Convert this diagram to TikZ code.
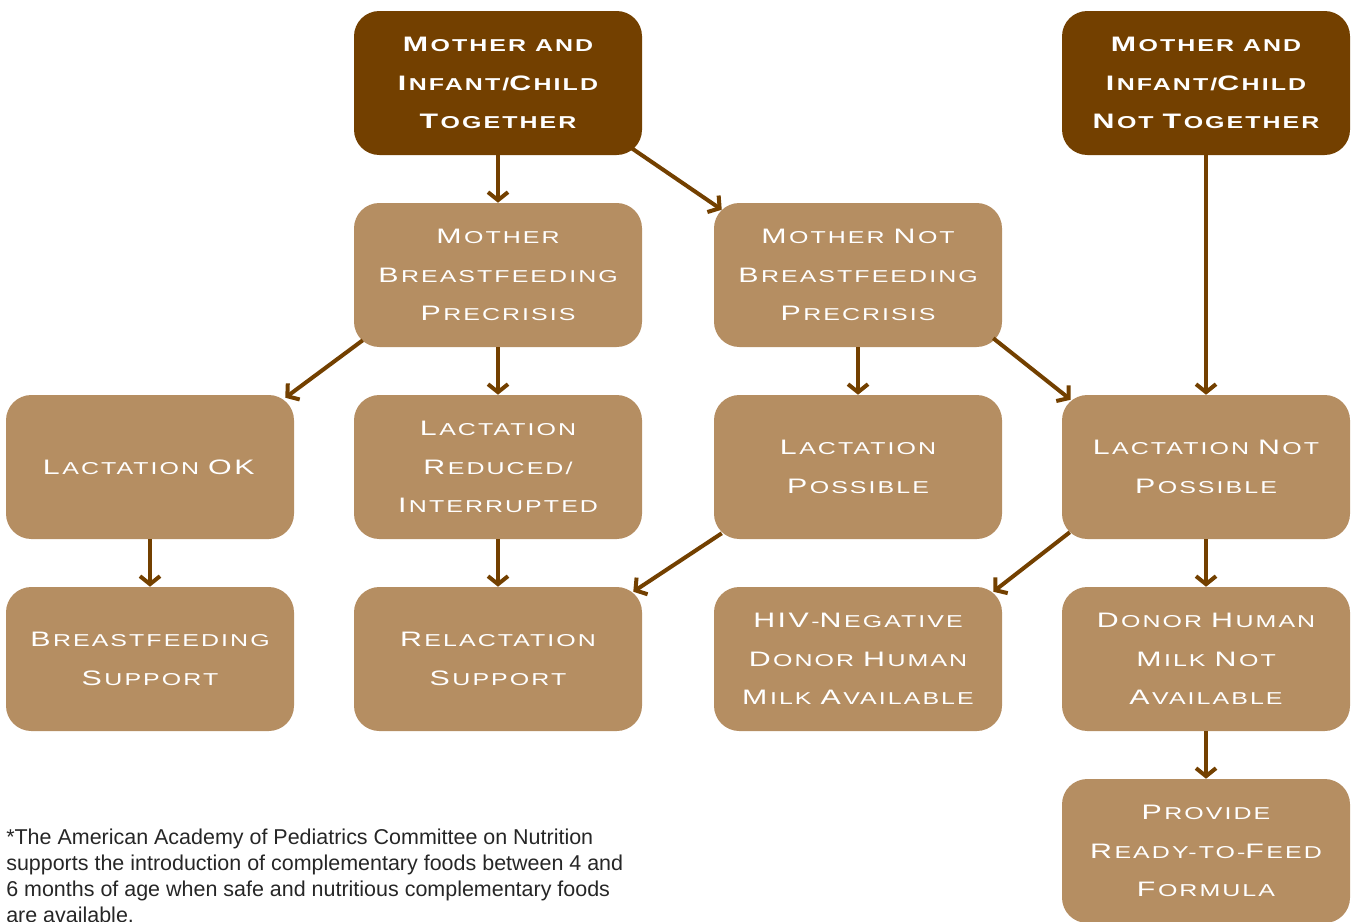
\documentclass[tikz,border=0pt]{standalone}
\usepackage{fontspec}
\usepackage{tikz}
\usetikzlibrary{arrows.meta}
\setmainfont{Liberation Sans}
\newfontfamily\boxfont[FakeStretch=1.45,LetterSpace=12]{Liberation Sans}
\newcommand\ini[1]{{\fontsize{15.7}{28.9}\selectfont #1\kern.12em}}
\definecolor{darkbrown}{RGB}{115,64,0}
\definecolor{boxtan}{RGB}{181,142,98}

\begin{document}
\begin{tikzpicture}[x=0.75pt,y=-0.75pt,
    box/.style={rounded corners=19pt, minimum width=216pt, minimum height=108pt,
      text=white, align=center, inner sep=0pt,
      font=\boxfont\fontsize{12.9}{28.9}\selectfont},
    topbox/.style={box, fill=darkbrown, font=\boxfont\bfseries\fontsize{12.9}{28.9}\selectfont},
    midbox/.style={box, fill=boxtan},
    arr/.style={draw=darkbrown, line width=3pt, -{Straight Barb[length=6pt,width=15pt]}}]
    \useasboundingbox (0,0) rectangle (1352,921);

    \node[topbox] (together) at (498,83) {\ini{M}OTHER AND\\\ini{I}NFANT/\ini{C}HILD\\\ini{T}OGETHER};
    \node[topbox] (apart) at (1206,83) {\ini{M}OTHER AND\\\ini{I}NFANT/\ini{C}HILD\\\ini{N}OT \ini{T}OGETHER};
    \node[midbox] (bfpre) at (498,275) {\ini{M}OTHER\\\ini{B}REASTFEEDING\\\ini{P}RECRISIS};
    \node[midbox] (nobfpre) at (858,275) {\ini{M}OTHER \ini{N}OT\\\ini{B}REASTFEEDING\\\ini{P}RECRISIS};
    \node[midbox] (lactok) at (150,467) {\ini{L}ACTATION \ini{OK}};
    \node[midbox] (lactred) at (498,467) {\ini{L}ACTATION\\\ini{R}EDUCED/\\\ini{I}NTERRUPTED};
    \node[midbox] (lactposs) at (858,467) {\ini{L}ACTATION\\\ini{P}OSSIBLE};
    \node[midbox] (lactnot) at (1206,467) {\ini{L}ACTATION \ini{N}OT\\\ini{P}OSSIBLE};
    \node[midbox] (bfsupport) at (150,659) {\ini{B}REASTFEEDING\\\ini{S}UPPORT};
    \node[midbox] (relsupport) at (498,659) {\ini{R}ELACTATION\\\ini{S}UPPORT};
    \node[midbox] (hivneg) at (858,659) {\ini{HIV}-\ini{N}EGATIVE\\\ini{D}ONOR \ini{H}UMAN\\\ini{M}ILK \ini{A}VAILABLE};
    \node[midbox] (nodonor) at (1206,659) {\ini{D}ONOR \ini{H}UMAN\\\ini{M}ILK \ini{N}OT\\\ini{A}VAILABLE};
    \node[midbox] (formula) at (1206,851) {\ini{P}ROVIDE\\\ini{R}EADY-TO-\ini{F}EED\\\ini{F}ORMULA};

    \draw[arr] (together) -- (bfpre);
    \draw[arr] ([shift={(-12,-8)}]together.south east) -- ([shift={(8,7)}]nobfpre.north west);
    \draw[arr] (apart) -- (lactnot);
    \draw[arr] ([shift={(9,-7)}]bfpre.south west) -- ([shift={(-9,3)}]lactok.north east);
    \draw[arr] (bfpre) -- (lactred);
    \draw[arr] (nobfpre) -- (lactposs);
    \draw[arr] ([shift={(-9,-9)}]nobfpre.south east) -- ([shift={(9,5)}]lactnot.north west);
    \draw[arr] (lactok) -- (bfsupport);
    \draw[arr] (lactred) -- (relsupport);
    \draw[arr] ([shift={(8,-6)}]lactposs.south west) -- ([shift={(-9,5)}]relsupport.north east);
    \draw[arr] ([shift={(8,-7)}]lactnot.south west) -- ([shift={(-9,5)}]hivneg.north east);
    \draw[arr] (lactnot) -- (nodonor);
    \draw[arr] (nodonor) -- (formula);

    \node[anchor=north west, inner sep=0pt, align=left, text=black!85,
      font=\fontsize{16.1}{19.5}\selectfont] (note) at (6,829)
      {*The American Academy of Pediatrics Committee on Nutrition\\supports the introduction of complementary foods between 4 and\\6 months of age when safe and nutritious complementary foods\\are available.};
\end{tikzpicture}
\end{document}
